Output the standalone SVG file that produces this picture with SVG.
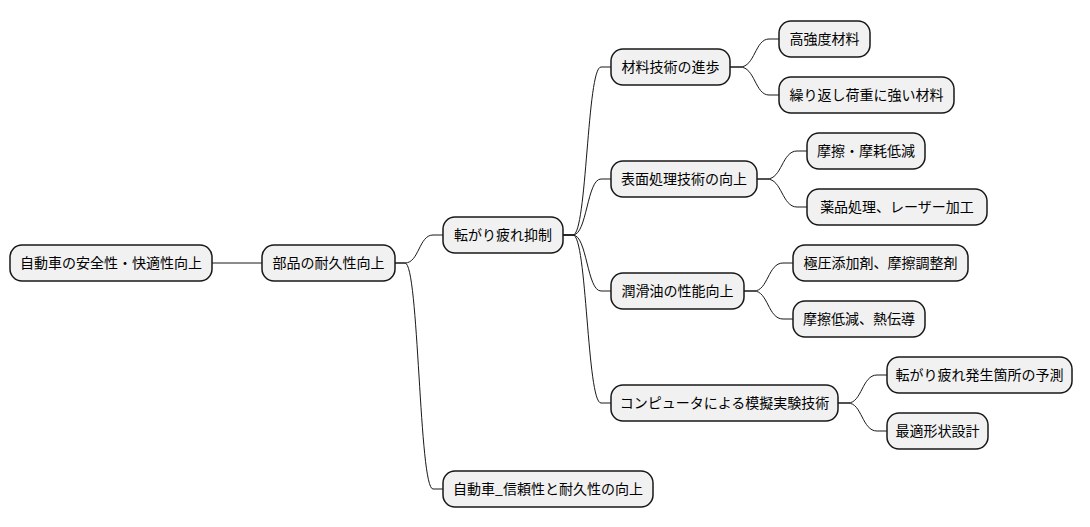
<svg xmlns="http://www.w3.org/2000/svg" width="1090" height="527" viewBox="0 0 1090 527">
<style>
.n rect{fill:#f1f1f1;stroke:#181818;stroke-width:1.5}
.n text{font-family:"Noto Sans CJK JP","Noto Sans CJK SC",sans-serif;font-size:14px;fill:#000;text-anchor:middle}
.c path{fill:none;stroke:#181818;stroke-width:1}
</style>
<rect width="1090" height="527" fill="#fff"/>
<g id="connectors" class="c">
<path d="M212,263 L262,263"/>
<path d="M395,263 L405,263 C419,263 419,235 433,235 L443,235"/>
<path d="M395,263 L405,263 C419,263 419,489 433,489 L443,489"/>
<path d="M563,235 L573,235 C587,235 587,67 601,67 L611,67"/>
<path d="M563,235 L573,235 C587,235 587,179 601,179 L611,179"/>
<path d="M563,235 L573,235 C587,235 587,291 601,291 L611,291"/>
<path d="M563,235 L573,235 C587,235 587,403 601,403 L611,403"/>
<path d="M730,67 L740,67 C755,67 755,39 769,39 L779,39"/>
<path d="M730,67 L740,67 C755,67 755,95 769,95 L779,95"/>
<path d="M757,179 L767,179 C782,179 782,151 797,151 L807,151"/>
<path d="M757,179 L767,179 C782,179 782,207 797,207 L807,207"/>
<path d="M744,291 L754,291 C768,291 768,263 783,263 L793,263"/>
<path d="M744,291 L754,291 C768,291 768,319 783,319 L793,319"/>
<path d="M838,403 L848,403 C862,403 862,375 877,375 L887,375"/>
<path d="M838,403 L848,403 C862,403 862,431 877,431 L887,431"/>
</g>
<g id="n1" class="n"><rect x="10" y="245" width="202" height="36" rx="12"/><text x="111" y="268">自動車の安全性・快適性向上</text></g>
<g id="n2" class="n"><rect x="262" y="245" width="133" height="36" rx="12"/><text x="328.5" y="268">部品の耐久性向上</text></g>
<g id="n3" class="n"><rect x="443" y="217" width="120" height="36" rx="12"/><text x="503" y="240">転がり疲れ抑制</text></g>
<g id="n4" class="n"><rect x="443" y="471" width="210" height="36" rx="12"/><text x="548" y="494">自動車_信頼性と耐久性の向上</text></g>
<g id="n5" class="n"><rect x="611" y="49" width="119" height="36" rx="12"/><text x="670.5" y="72">材料技術の進歩</text></g>
<g id="n6" class="n"><rect x="779" y="21" width="91" height="36" rx="12"/><text x="824.5" y="44">高強度材料</text></g>
<g id="n7" class="n"><rect x="779" y="77" width="175" height="36" rx="12"/><text x="866.5" y="100">繰り返し荷重に強い材料</text></g>
<g id="n8" class="n"><rect x="611" y="161" width="146" height="36" rx="12"/><text x="684" y="184">表面処理技術の向上</text></g>
<g id="n9" class="n"><rect x="807" y="133" width="118" height="36" rx="12"/><text x="866" y="156">摩擦・摩耗低減</text></g>
<g id="n10" class="n"><rect x="807" y="189" width="180" height="36" rx="12"/><text x="897" y="212">薬品処理、レーザー加工</text></g>
<g id="n11" class="n"><rect x="611" y="273" width="133" height="36" rx="12"/><text x="677.5" y="296">潤滑油の性能向上</text></g>
<g id="n12" class="n"><rect x="793" y="245" width="175" height="36" rx="12"/><text x="880.5" y="268">極圧添加剤、摩擦調整剤</text></g>
<g id="n13" class="n"><rect x="793" y="301" width="132" height="36" rx="12"/><text x="859" y="324">摩擦低減、熱伝導</text></g>
<g id="n14" class="n"><rect x="611" y="385" width="227" height="36" rx="12"/><text x="724.5" y="408">コンピュータによる模擬実験技術</text></g>
<g id="n15" class="n"><rect x="887" y="357" width="185" height="36" rx="12"/><text x="979.5" y="380">転がり疲れ発生箇所の予測</text></g>
<g id="n16" class="n"><rect x="887" y="413" width="101" height="36" rx="12"/><text x="937.5" y="436">最適形状設計</text></g>
</svg>
